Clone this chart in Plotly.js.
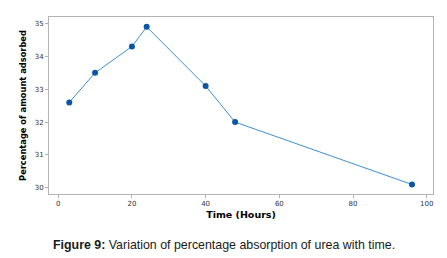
<!DOCTYPE html>
<html><head><meta charset="utf-8">
<script src="https://cdn.plot.ly/plotly-3.0.1.min.js"></script>
<style>html,body{margin:0;padding:0;background:#fff;}#chart{width:447px;height:258px;}</style>
</head><body><div id="chart"></div>
<script>
const timeHours = [3, 10, 20, 24, 40, 48, 96];
const percentAbsorbed = [32.6, 33.5, 34.3, 34.9, 33.1, 32.0, 30.1];
const xTicks = [0, 20, 40, 60, 80, 100];
const yTicks = [30, 31, 32, 33, 34, 35];

const trace = {
  x: timeHours, y: percentAbsorbed, type: 'scatter', mode: 'lines+markers',
  line: {color: '#3d8fd1', width: 1},
  marker: {color: '#0b56a4', size: 6},
  hoverinfo: 'skip'
};
const axisCommon = {
  showline: true, linecolor: '#b3b3b3', linewidth: 1, mirror: true,
  showgrid: false, zeroline: false, ticks: 'outside', ticklen: 3, tickcolor: '#b3b3b3',
  tickfont: {family: 'DejaVu Sans', size: 7, color: '#333'}
};
const layout = {
  width: 447, height: 258, paper_bgcolor: '#fff', plot_bgcolor: '#fff',
  margin: {l: 49, r: 14, t: 17, b: 64},
  showlegend: false,
  xaxis: Object.assign({}, axisCommon, {
    range: [-2.5, 101.7], tickvals: xTicks, ticktext: xTicks.map(String),
    title: {text: 'Time (Hours)', font: {family: 'DejaVu Sans', size: 9.5, color: '#000', weight: 'bold'}, standoff: 3}
  }),
  yaxis: Object.assign({}, axisCommon, {
    range: [29.81, 35.2], tickvals: yTicks, ticktext: yTicks.map(String),
    title: {text: 'Percentage of amount adsorbed', font: {family: 'DejaVu Sans', size: 8.3, color: '#000', weight: 'bold'}, standoff: 6}
  }),
  annotations: [{
    xref: 'paper', yref: 'paper', x: 0.005, y: -0.29, xanchor: 'left', yanchor: 'middle',
    showarrow: false, align: 'left',
    text: '<b>Figure 9:</b> Variation of percentage absorption of urea with time.',
    font: {family: 'Liberation Sans, Arial', size: 12.4, color: '#1a1a1a'}
  }]
};
Plotly.newPlot('chart', [trace], layout, {staticPlot: true, displayModeBar: false});
</script></body></html>
